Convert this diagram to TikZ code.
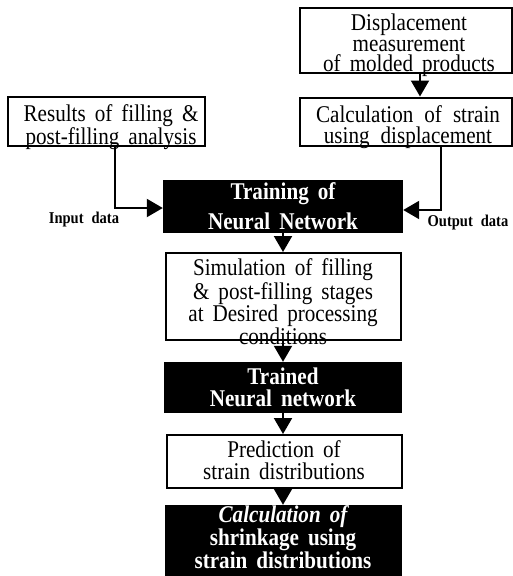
\documentclass[tikz,border=0pt]{standalone}
\usepackage{fontspec}
\setmainfont{Liberation Serif}[FakeStretch=0.88]
\usetikzlibrary{arrows.meta}
\newcommand\mywsp[1]{\spaceskip=#1 plus 2pt minus 2pt\relax}
\begin{document}
\begin{tikzpicture}[x=1pt,y=-1pt,
  wbox/.style={draw=black, line width=2pt, fill=white, inner sep=0pt},
  bbox/.style={fill=black, inner sep=0pt},
  wtxt/.style={align=center, inner sep=0pt, font=\fontsize{24}{20.5}\selectfont\mywsp{9pt}},
  btxt/.style={align=center, inner sep=0pt, text=white, font=\fontsize{24}{21}\selectfont\bfseries\mywsp{9pt}},
  lbl/.style={inner sep=0pt, font=\fontsize{16.5}{15}\selectfont\bfseries\mywsp{8pt}},
  arr/.style={line width=2pt, -{Triangle[width=18pt,length=16pt]}}]
\useasboundingbox (0,0) rectangle (513,576);
% boxes
\node[wbox, minimum width=212pt, minimum height=65pt] (disp) at (406,40.5) {};
\node[wbox, minimum width=212pt, minimum height=48pt] (calc) at (406,121.5) {};
\node[wbox, minimum width=197pt, minimum height=49pt] (res) at (106.5,121.5) {};
\node[bbox, minimum width=240pt, minimum height=53pt] (train) at (283,206.5) {};
\node[wbox, minimum width=235pt, minimum height=87pt] (sim) at (283.5,296.5) {};
\node[bbox, minimum width=238pt, minimum height=51pt] (trained) at (283,387.5) {};
\node[wbox, minimum width=235pt, minimum height=53pt] (pred) at (284.5,461.5) {};
\node[bbox, minimum width=237pt, minimum height=71pt] (shrink) at (283.5,540.5) {};
% texts
\node[wtxt] (disp-t) at (409,45.5) {Displacement\\measurement\\of molded products};
\node[wtxt, font=\fontsize{24}{20.5}\selectfont\mywsp{11pt}] (calc-t) at (408,127) {Calculation of strain\\using displacement};
\node[wtxt] (res-t) at (111,127) {Results of filling \&\\post-filling analysis};
\node[btxt] (train-t) at (283,206.5) {Training of\\[7pt]Neural Network};
\node[wtxt] (sim-t) at (283,302) {Simulation of filling\\\& post-filling stages\\at Desired processing\\conditions};
\node[btxt] (trained-t) at (283,387) {Trained\\[1pt]Neural network};
\node[wtxt] (pred-t) at (284,460) {Prediction of\\[2pt]strain distributions};
\node[btxt] (shrink-t) at (283,537) {{\itshape Calculation of}\\shrinkage using\\strain distributions};
\node[lbl] (inl) at (84,220) {Input data};
\node[lbl] (outl) at (468,223) {Output data};
% connectors
\coordinate (j1) at (115,208);
\coordinate (j2) at (441,210);
\coordinate (j3) at (420,0);
\draw[arr] (res.south -| j1) |- (train.west |- j1);
\draw[arr] (calc.south -| j2) |- (train.east |- j2);
\draw[arr] (disp.south -| j3) -- (calc.north -| j3);
\draw[arr] (train.south) -- (train.south |- sim.north);
\draw[arr] (sim.south -| train.south) -- (trained.north -| train.south);
\draw[arr] (trained.south -| train.south) -- (pred.north -| train.south);
\draw[arr] (pred.south -| train.south) -- (shrink.north -| train.south);
\end{tikzpicture}
\end{document}
